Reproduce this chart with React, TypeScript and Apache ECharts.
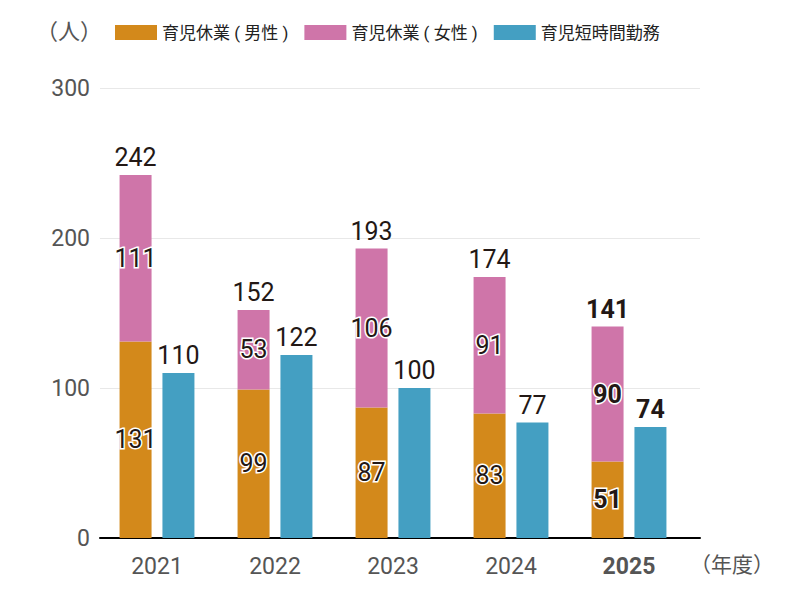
import React, { useEffect, useRef } from "react";
import * as echarts from "echarts";

const years = ["2021", "2022", "2023", "2024", "2025"];
const male = [131, 99, 87, 83, 51];
const female = [111, 53, 106, 91, 90];
const shortTime = [110, 122, 100, 77, 74];
const yTicks = [0, 100, 200, 300];
const seriesNames = ["育児休業 ( 男性 )", "育児休業 ( 女性 )", "育児短時間勤務"];
const highlightYear = "2025";

const COLORS = ["#d3891b", "#cf75a9", "#449fc2"];
const FONT = "Roboto, 'Noto Sans CJK JP', sans-serif";
const DARK = "#231815";

export default function App() {
  const ref = useRef<HTMLDivElement>(null);
  useEffect(() => {
    document.body.style.margin = "0";
    if (!ref.current) return;
    const chart = echarts.init(ref.current, undefined, { renderer: "svg" });
    const isHL = (i: number) => years[i] === highlightYear;
    const insideLabel = {
      show: true,
      position: "inside",
      color: DARK,
      fontSize: 25,
      fontFamily: FONT,
      textBorderColor: "#fff",
      textBorderWidth: 3,
    };
    const topLabel = {
      show: true,
      position: "top",
      distance: 5,
      color: DARK,
      fontSize: 25,
      fontFamily: FONT,
    };
    const mk = (arr: number[]) =>
      arr.map((v, i) => (isHL(i) ? { value: v, label: { fontWeight: "bold" } } : v));
    const totals = male.map((m, i) => m + female[i]);

    chart.setOption({
      animation: false,
      textStyle: { fontFamily: FONT },
      legend: {
        left: 110,
        top: 19,
        itemWidth: 42,
        itemHeight: 15,
        itemGap: 16,
        icon: "rect",
        data: seriesNames,
        textStyle: { fontSize: 17, color: "#222", fontFamily: FONT },
      },
      grid: [
        { left: 98, right: 112, top: 88, bottom: 63 },
        { left: 100, right: 100, top: 88, bottom: 63 },
      ],
      xAxis: [
        {
          type: "category",
          gridIndex: 0,
          data: years,
          axisLine: { show: false },
          axisTick: { show: false },
          axisLabel: {
            margin: 17,
            fontSize: 23,
            color: "#555",
            fontFamily: FONT,
            formatter: (v: string) => (v === highlightYear ? `{b|${v}}` : `{n|${v}}`),
            rich: {
              n: { fontSize: 23, color: "#555", fontFamily: FONT },
              b: { fontSize: 23, color: "#555", fontWeight: "bold", fontFamily: FONT },
            },
          },
        },
        {
          type: "value",
          gridIndex: 1,
          min: 0,
          max: 1,
          axisLine: { show: true, onZero: false, lineStyle: { color: "#000", width: 2 } },
          axisTick: { show: false },
          axisLabel: { show: false },
          splitLine: { show: false },
        },
      ],
      yAxis: [
        {
          type: "value",
          gridIndex: 0,
          min: yTicks[0],
          max: yTicks[yTicks.length - 1],
          interval: 100,
          show: false,
          splitLine: { show: false },
        },
        {
          type: "value",
          gridIndex: 1,
          min: yTicks[0],
          max: yTicks[yTicks.length - 1],
          interval: 100,
          axisLine: { show: false },
          axisTick: { show: false },
          axisLabel: { margin: 10, fontSize: 23, color: "#555", fontFamily: FONT },
          splitLine: { lineStyle: { color: "#e8e8e8", width: 1 } },
        },
      ],
      series: [
        {
          name: seriesNames[0],
          type: "bar",
          stack: "leave",
          barWidth: 32,
          barGap: "34%",
          itemStyle: { color: COLORS[0] },
          label: insideLabel,
          data: mk(male),
        },
        {
          name: seriesNames[1],
          type: "bar",
          stack: "leave",
          barWidth: 32,
          itemStyle: { color: COLORS[1] },
          label: insideLabel,
          data: mk(female),
        },
        {
          name: "total",
          type: "bar",
          stack: "leave",
          barWidth: 32,
          itemStyle: { color: "transparent" },
          label: {
            ...topLabel,
            formatter: (p: any) => String(totals[p.dataIndex]),
          },
          data: years.map((_, i) => (isHL(i) ? { value: 0, label: { fontWeight: "bold" } } : 0)),
        },
        {
          name: seriesNames[2],
          type: "bar",
          barWidth: 32,
          barGap: "34%",
          itemStyle: { color: COLORS[2] },
          label: topLabel,
          data: mk(shortTime),
        },
      ],
      graphic: [
        {
          type: "text",
          left: 36,
          top: 20,
          style: { text: "（人）", fontSize: 22, fill: "#555", fontFamily: FONT },
        },
        {
          type: "text",
          left: 690,
          top: 554,
          style: { text: "（年度）", fontSize: 21, fill: "#555", fontFamily: FONT },
        },
      ],
    });
    return () => chart.dispose();
  }, []);
  return <div ref={ref} style={{ width: 800, height: 601 }} />;
}
